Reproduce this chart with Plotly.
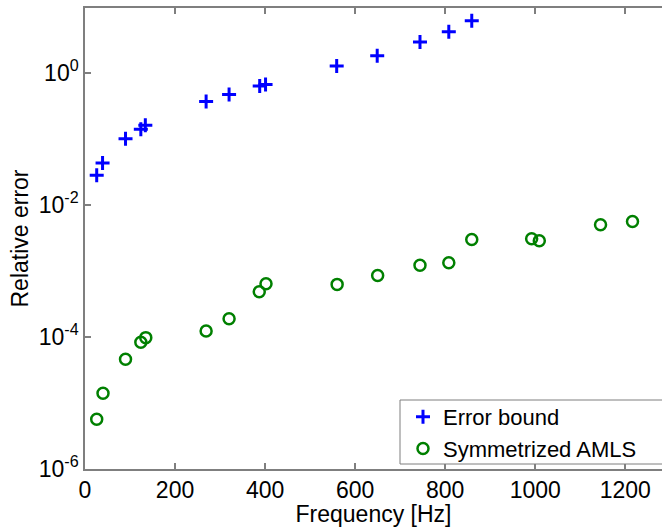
import plotly.graph_objects as go

# Error bound (blue plus)
bound_freq = [26, 39, 90, 124, 134, 269, 320, 388, 401, 559, 649, 744, 808, 859]
bound_err = [0.028, 0.043, 0.100, 0.139, 0.160, 0.368, 0.47, 0.63, 0.665, 1.26, 1.81, 2.91, 4.17, 6.11]

# Symmetrized AMLS (green circles)
amls_freq = [26, 40, 90, 124, 135, 269, 320, 387, 402, 560, 650, 744, 808, 859, 992, 1009, 1145, 1216]
amls_err = [5.67e-6, 1.40e-5, 4.58e-5, 8.28e-5, 9.75e-5, 1.23e-4, 1.89e-4, 4.84e-4, 6.40e-4,
            6.24e-4, 8.53e-4, 1.22e-3, 1.33e-3, 2.99e-3, 3.06e-3, 2.86e-3, 4.99e-3, 5.59e-3]

x_ticks = [0, 200, 400, 600, 800, 1000, 1200]
y_ticks = [1e-6, 1e-4, 1e-2, 1e0]
y_ticktext = ["10<sup>-6</sup>", "10<sup>-4</sup>", "10<sup>-2</sup>", "10<sup>0</sup>"]

FONT = "Liberation Sans, Arial, sans-serif"
GRAY = "#7f7f7f"
FS = 23

W, H = 662, 527
L, T, B = 85, 8, 58
PW, PH = W - L, H - T - B   # plot area in px


def px_x(px):
    return (px - L) / PW


def px_y(px):
    return (H - B - px) / PH


fig = go.Figure()
fig.add_trace(go.Scatter(
    x=bound_freq, y=bound_err, mode="markers", name="Error bound",
    marker=dict(symbol="cross-thin", size=10, color="#0000ff",
                line=dict(color="#0000ff", width=3)),
))
fig.add_trace(go.Scatter(
    x=amls_freq, y=amls_err, mode="markers", name="Symmetrized AMLS",
    marker=dict(symbol="circle-open", size=11, color="#008000",
                line=dict(color="#008000", width=2.5)),
))

# legend frame: left, top and bottom edges (it runs off the right edge like the reference)
fig.add_shape(type="rect", xref="paper", yref="paper",
              x0=px_x(400), x1=1.0, y0=px_y(464), y1=px_y(400),
              fillcolor="white", line=dict(width=0), layer="above")
for (xa, ya, xb, yb) in [(400, 400, 662, 400), (400, 464, 662, 464), (400, 400, 400, 464)]:
    fig.add_shape(type="line", xref="paper", yref="paper",
                  x0=px_x(xa), y0=px_y(ya), x1=px_x(xb), y1=px_y(yb),
                  line=dict(color=GRAY, width=1), layer="above")

fig.update_layout(
    width=W, height=H,
    margin=dict(l=L, r=0, t=T, b=B),
    paper_bgcolor="white", plot_bgcolor="white",
    font=dict(family=FONT, size=FS, color="black"),
    showlegend=True,
    legend=dict(
        x=px_x(403), xanchor="left",
        y=px_y(396), yanchor="top",
        bgcolor="rgba(0,0,0,0)", borderwidth=0,
        font=dict(family=FONT, size=22, color="black"),
        tracegroupgap=0,
    ),
    xaxis=dict(
        range=[0, PW / 0.45025], tickvals=x_ticks, automargin=False,
        showgrid=False, zeroline=False,
        showline=True, linecolor=GRAY, linewidth=1.5, mirror="ticks",
        ticks="inside", ticklen=6, tickcolor=GRAY, tickwidth=1.5,
        tickfont=dict(family=FONT, size=FS, color="black"),
        title=dict(text="Frequency [Hz]", font=dict(family=FONT, size=FS, color="black"), standoff=0),
    ),
    yaxis=dict(
        type="log", range=[-6, 0.98], automargin=False,
        tickvals=y_ticks, ticktext=y_ticktext,
        showgrid=False, zeroline=False,
        showline=True, linecolor=GRAY, linewidth=1.5, mirror=False,
        ticks="inside", ticklen=6, tickcolor=GRAY, tickwidth=1.5,
        tickfont=dict(family=FONT, size=FS, color="black"),
        title=dict(text="Relative error", font=dict(family=FONT, size=FS, color="black"), standoff=4),
    ),
)

fig.write_html("out.html", config={"displayModeBar": False},
               post_script="document.body.style.margin='0px';document.body.style.overflow='hidden';")
